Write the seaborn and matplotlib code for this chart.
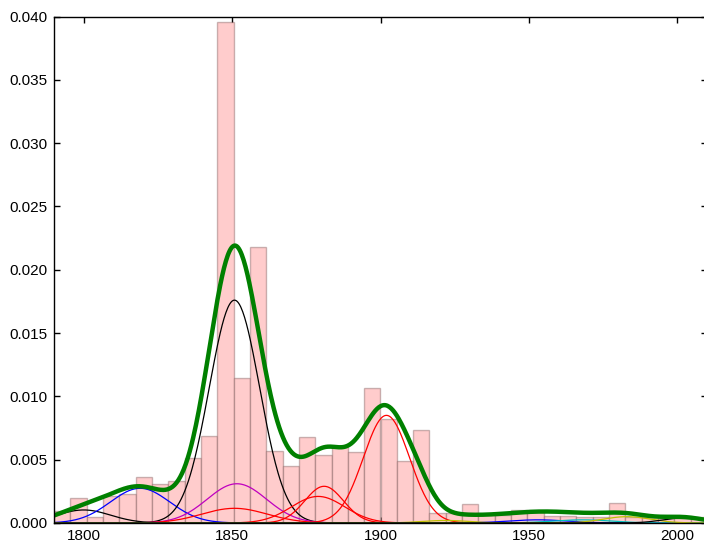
import numpy as np
import pandas as pd
import seaborn as sns
import matplotlib
matplotlib.use('Agg')
import matplotlib.pyplot as plt
from matplotlib.ticker import MultipleLocator, FormatStrFormatter

# histogram: 40 bins between 1790 and 2010, density values
bin_range = (1790, 2010)
n_bins = 40
hist_density = [
    0.00097, 0.0020, 0.0005, 0.00216, 0.0023, 0.00366, 0.0031, 0.0033, 0.0051, 0.0069,
    0.0396, 0.01145, 0.02178, 0.0057, 0.00453, 0.0068, 0.00535, 0.0060, 0.0056, 0.01065,
    0.0082, 0.0049, 0.00736, 0.0008, 0.0008, 0.0015, 0.0007, 0.00063, 0.00103, 0.00093,
    0.00058, 0.00058, 0.0005, 0.0005, 0.0016, 0.0005, 0.00045, 0.00045, 0.0004, 0.0005,
]

# fitted gaussian components (drawn thin)
comp_mean = [1800, 1819, 1850.8, 1851.6, 1850.8, 1881, 1879, 1902, 1922, 1953, 1968, 1983, 2002]
comp_sd = [9, 10, 8.5, 10, 11, 6.5, 9, 7.8, 8, 10, 10, 8, 7]
comp_peak = [0.00103, 0.00274, 0.0176, 0.0031, 0.00116, 0.0029, 0.0021, 0.0085,
             0.0002, 0.00025, 0.00025, 0.0005, 0.0004]
comp_color = ['k', 'b', 'k', 'm', 'r', 'r', 'r', 'r', 'y', 'b', 'c', 'y', 'k']

# extra terms that only show up in the total curve
extra_mean = [1868, 1891, 1913, 1945]
extra_sd = [6, 7, 5, 25]
extra_peak = [0.0015, 0.0015, 0.0012, 0.0006]


def gauss(x, mu, sd, peak):
    return peak * np.exp(-0.5 * ((x - mu) / sd) ** 2)


sns.set_style('ticks')
plt.rcParams['font.family'] = ['Liberation Sans', 'DejaVu Sans']

fig = plt.figure(figsize=(7.04, 5.44), dpi=100)
ax = fig.add_axes([54 / 704, 21 / 544, 653 / 704, 506.5 / 544])

width = (bin_range[1] - bin_range[0]) / n_bins
df_hist = pd.DataFrame({
    'year': [bin_range[0] + (i + 0.5) * width for i in range(n_bins)],
    'density': hist_density,
})
sns.histplot(data=df_hist, x='year', weights='density', bins=n_bins,
             binrange=bin_range, stat='count', facecolor=(1, 0.8, 0.8),
             edgecolor=(0.3, 0.15, 0.15, 0.3), linewidth=1, ax=ax)

xs = np.linspace(bin_range[0], bin_range[1], 700)
total = np.zeros_like(xs)
for mu, sd, pk, c in zip(comp_mean, comp_sd, comp_peak, comp_color):
    ys = gauss(xs, mu, sd, pk)
    total += ys
    sns.lineplot(x=xs, y=ys, color=c, lw=0.9, ax=ax)
for mu, sd, pk in zip(extra_mean, extra_sd, extra_peak):
    total += gauss(xs, mu, sd, pk)

sns.lineplot(x=xs, y=total, color='g', lw=3.2, ax=ax)

ax.set_xlim(*bin_range)
ax.set_ylim(0, 0.040)
ax.set_xticks([1800, 1850, 1900, 1950, 2000])
ax.yaxis.set_major_locator(MultipleLocator(0.005))
ax.yaxis.set_major_formatter(FormatStrFormatter('%.3f'))
ax.set_xlabel('')
ax.set_ylabel('')
ax.tick_params(axis='both', which='major', labelsize=11, length=4, width=1,
               top=True, right=True, direction='in', colors='k')
ax.tick_params(axis='y', pad=5)
ax.tick_params(axis='x', pad=4)
for s in ax.spines.values():
    s.set_visible(True)
    s.set_color('k')
    s.set_linewidth(1)

fig.savefig('out.png', dpi=100)
